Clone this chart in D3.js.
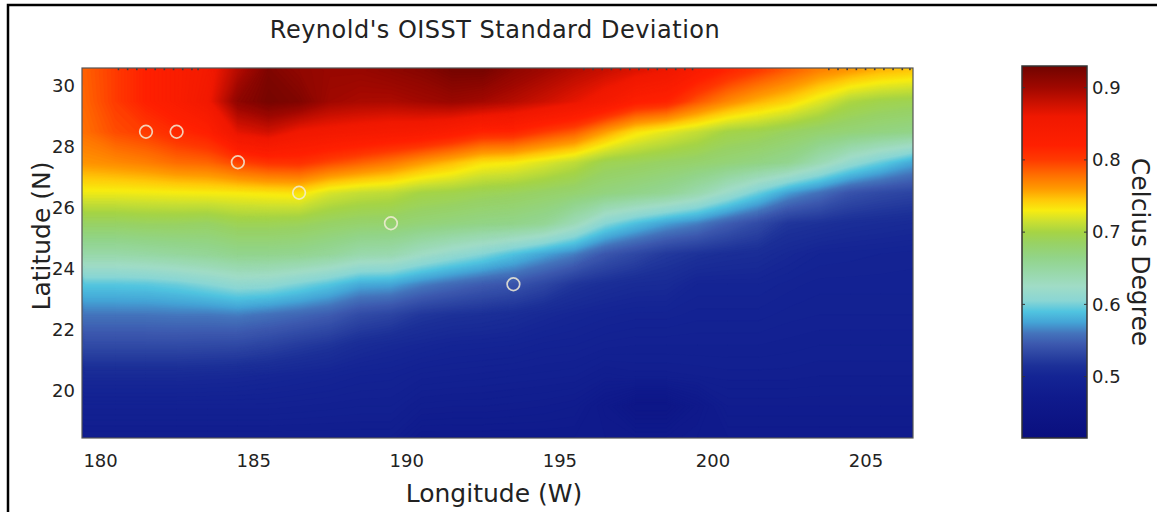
<!DOCTYPE html>
<html>
<head>
<meta charset="utf-8">
<script src="https://cdn.jsdelivr.net/npm/d3@7"></script>
<style>
  body { margin: 0; background: #fff; }
  svg { display: block; }
  text { font-family: "DejaVu Sans", sans-serif; }
</style>
</head>
<body>
<svg id="chart" width="1157" height="512"></svg>
<script>
// Grid cell centres (degrees)
const lons = [179.5, 180.5, 181.5, 182.5, 183.5, 184.5, 185.5, 186.5, 187.5, 188.5,
              189.5, 190.5, 191.5, 192.5, 193.5, 194.5, 195.5, 196.5, 197.5, 198.5,
              199.5, 200.5, 201.5, 202.5, 203.5, 204.5, 205.5, 206.5];
const lats = [30.5, 29.5, 28.5, 27.5, 26.5, 25.5, 24.5, 23.5, 22.5, 21.5, 20.5, 19.5, 18.5];

// SST standard deviation (°C), one row per latitude, north to south
const row305 = [.785,.800,.820,.835,.850,.890,.921,.910,.905,.905,.910,.915,.925,.925,.910,.900,.889,.879,.869,.859,.835,.815,.800,.785,.770,.760,.750,.745];
const row295 = [.783,.800,.820,.835,.855,.910,.926,.920,.900,.895,.894,.899,.904,.898,.889,.878,.865,.848,.824,.817,.789,.768,.752,.740,.722,.703,.696,.693];
const row285 = [.779,.793,.800,.812,.822,.866,.876,.858,.853,.848,.843,.840,.830,.816,.815,.800,.787,.759,.735,.723,.712,.698,.694,.686,.679,.674,.669,.665];
const row275 = [.763,.767,.772,.780,.783,.796,.805,.807,.795,.785,.775,.761,.749,.735,.731,.721,.710,.693,.689,.684,.680,.674,.668,.660,.638,.614,.596,.578];
const row265 = [.727,.727,.728,.729,.730,.731,.733,.735,.719,.712,.709,.699,.696,.691,.688,.683,.678,.670,.664,.657,.642,.620,.597,.573,.558,.541,.534,.530];
const row255 = [.685,.685,.687,.687,.685,.692,.692,.690,.684,.680,.679,.674,.670,.666,.664,.657,.635,.605,.588,.574,.564,.548,.535,.519,.516,.512,.510,.508];
const row245 = [.645,.645,.648,.652,.656,.662,.662,.660,.654,.643,.641,.627,.615,.604,.590,.576,.564,.544,.533,.522,.517,.513,.511,.505,.500,.499,.498,.497];
const row235 = [.592,.592,.593,.597,.604,.612,.610,.601,.591,.578,.576,.564,.555,.547,.542,.532,.519,.513,.509,.508,.500,.500,.500,.497,.495,.495,.495,.495];
const row225 = [.560,.560,.560,.561,.561,.563,.558,.553,.547,.535,.530,.520,.516,.514,.511,.506,.502,.499,.497,.497,.495,.495,.495,.493,.492,.492,.492,.492];
const row215 = [.535,.535,.535,.535,.534,.533,.529,.523,.518,.510,.506,.503,.500,.499,.498,.495,.494,.491,.490,.490,.490,.490,.490,.489,.488,.488,.488,.488];
const row205 = [.507,.507,.507,.507,.506,.505,.503,.501,.499,.496,.495,.491,.490,.489,.488,.487,.486,.481,.483,.483,.484,.485,.485,.485,.484,.484,.484,.484];
const row195 = [.491,.491,.491,.491,.491,.491,.491,.490,.489,.488,.488,.481,.480,.480,.479,.478,.476,.465,.452,.452,.465,.478,.478,.478,.478,.478,.478,.478];
const row185 = [.480,.480,.480,.480,.480,.480,.480,.480,.480,.480,.480,.470,.470,.470,.470,.470,.470,.468,.466,.466,.470,.472,.472,.472,.472,.472,.472,.472];
const sstStd = [row305, row295, row285, row275, row265, row255, row245, row235, row225, row215, row205, row195, row185];

// Station locations (circles)
const stationLons = [181.5, 182.5, 184.5, 186.5, 189.5, 193.5];
const stationLats = [28.5, 28.5, 27.5, 26.5, 25.5, 23.5];

// Small marks along the top edge
const topMarkLons = [180.6, 180.9, 181.2, 181.5, 181.8, 182.1, 182.4, 182.7, 183.0, 183.2,
                     195.8, 196.1, 196.4, 196.7, 197.0, 197.3, 197.6, 197.9, 198.2, 198.5, 198.8, 199.1, 199.35,
                     203.8, 204.1, 204.4, 204.7, 205.0, 205.3, 205.6, 205.9, 206.2, 206.45];

// Axis ticks
const xTicks = [180, 185, 190, 195, 200, 205];
const yTicks = [20, 22, 24, 26, 28, 30];
const cbTicks = [0.5, 0.6, 0.7, 0.8, 0.9];

// Colour map stops
const cmapValues = [0.415, 0.47, 0.50, 0.515, 0.53, 0.545, 0.56, 0.575, 0.59, 0.605, 0.625, 0.645, 0.665, 0.685, 0.70, 0.715, 0.73, 0.745, 0.76, 0.78, 0.80, 0.82, 0.86, 0.88, 0.90, 0.93];
const cmapColors = ["#0a0f7e", "#0f1a8c", "#142494", "#1c3098", "#2c44a2", "#3c58ae", "#4474bc", "#44a4d6", "#50c4e0", "#8ad6d4",
                    "#a0dcc6", "#98d8a8", "#92d488", "#98d264", "#a6d444", "#cce030", "#f8ec10", "#ffc808", "#ff9a00", "#ff6c00",
                    "#ff3a00", "#ff2000", "#f01800", "#c81000", "#a00800", "#700400"];

const svg = d3.select("#chart");
const W = 1157, H = 512;

// Outer frame
svg.append("path")
  .attr("d", `M8,${H + 2} V5 H${W + 2}`)
  .attr("fill", "none").attr("stroke", "#000").attr("stroke-width", 2.5);

const plot = { left: 82, right: 913, top: 68, bottom: 438 };
const x = d3.scaleLinear().domain([179.41, 206.55]).range([plot.left, plot.right]);
const y = d3.scaleLinear().domain([18.46, 30.59]).range([plot.bottom, plot.top]);

const color = d3.scaleLinear().domain(cmapValues).range(cmapColors)
  .interpolate(d3.interpolateRgb).clamp(true);

// Filled contours of the gridded field
const nx = lons.length, ny = lats.length;
const dLon = lons[1] - lons[0], dLat = lats[0] - lats[1];
const step = 0.002;
const thresholds = d3.range(0.40, 0.94, step);
const contours = d3.contours().size([nx, ny]).thresholds(thresholds)(sstStd.flat());

const gridToScreen = d3.geoTransform({
  point(gx, gy) {
    const lon = lons[0] - dLon / 2 + gx * dLon;
    const lat = lats[0] + dLat / 2 - gy * dLat;
    this.stream.point(x(lon), y(lat));
  }
});
const path = d3.geoPath(gridToScreen);

const defs = svg.append("defs");
defs.append("clipPath").attr("id", "plotClip")
  .append("rect")
  .attr("x", plot.left).attr("y", plot.top)
  .attr("width", plot.right - plot.left).attr("height", plot.bottom - plot.top);

const field = svg.append("g").attr("clip-path", "url(#plotClip)");
field.selectAll("path")
  .data(contours)
  .join("path")
  .attr("d", path)
  .attr("fill", d => color(d.value + step / 2))
  .attr("stroke", d => color(d.value + step / 2))
  .attr("stroke-width", 0.4);

// Top edge marks
svg.append("g").selectAll("rect")
  .data(topMarkLons)
  .join("rect")
  .attr("x", d => x(d) - 0.8).attr("y", plot.top)
  .attr("width", 1.6).attr("height", 2.2)
  .attr("fill", "#4a3a3a");

// Station circles
svg.append("g").selectAll("circle")
  .data(stationLons.map((lon, i) => [lon, stationLats[i]]))
  .join("circle")
  .attr("cx", d => x(d[0])).attr("cy", d => y(d[1]))
  .attr("r", 6.3)
  .attr("fill", "none")
  .attr("stroke", "#f2ecd6").attr("stroke-opacity", 0.85)
  .attr("stroke-width", 1.7);

// Plot frame
svg.append("rect")
  .attr("x", plot.left).attr("y", plot.top)
  .attr("width", plot.right - plot.left).attr("height", plot.bottom - plot.top)
  .attr("fill", "none").attr("stroke", "#555").attr("stroke-width", 1.2);

// Axes
const tickFont = g => g.selectAll("text")
  .attr("font-size", 18).attr("fill", "#222");

const xAxis = svg.append("g")
  .attr("transform", `translate(0,${plot.bottom})`)
  .call(d3.axisBottom(x).tickValues(xTicks).tickSize(0).tickPadding(16).tickFormat(d3.format("d")));
xAxis.select(".domain").remove();
xAxis.call(tickFont);

const yAxis = svg.append("g")
  .attr("transform", `translate(${plot.left},0)`)
  .call(d3.axisLeft(y).tickValues(yTicks).tickSize(0).tickPadding(7).tickFormat(d3.format("d")));
yAxis.select(".domain").remove();
yAxis.call(tickFont);

// Titles
svg.append("text")
  .attr("x", 495).attr("y", 38)
  .attr("text-anchor", "middle")
  .attr("font-size", 24).attr("letter-spacing", 0.5).attr("fill", "#222")
  .text("Reynold's OISST Standard Deviation");

svg.append("text")
  .attr("x", 494).attr("y", 502)
  .attr("text-anchor", "middle")
  .attr("font-size", 25).attr("fill", "#222")
  .text("Longitude (W)");

svg.append("text")
  .attr("transform", "translate(50,236) rotate(-90)")
  .attr("text-anchor", "middle")
  .attr("font-size", 25).attr("fill", "#222")
  .text("Latitude (N)");

// Colour bar
const cb = { left: 1022, right: 1087, top: 66, bottom: 438 };
const cbDomain = [0.415, 0.93];
const cbScale = d3.scaleLinear().domain(cbDomain).range([cb.bottom, cb.top]);

const grad = defs.append("linearGradient").attr("id", "cbGrad")
  .attr("x1", 0).attr("y1", 1).attr("x2", 0).attr("y2", 0);
grad.selectAll("stop")
  .data(cmapValues.filter(v => v >= cbDomain[0] && v <= cbDomain[1]))
  .join("stop")
  .attr("offset", v => (v - cbDomain[0]) / (cbDomain[1] - cbDomain[0]))
  .attr("stop-color", v => color(v));

svg.append("rect")
  .attr("x", cb.left).attr("y", cb.top)
  .attr("width", cb.right - cb.left).attr("height", cb.bottom - cb.top)
  .attr("fill", "url(#cbGrad)")
  .attr("stroke", "#333").attr("stroke-width", 1.5);

svg.append("g").selectAll("path")
  .data(cbTicks)
  .join("path")
  .attr("d", d => `M${cb.left},${cbScale(d)}h3M${cb.right},${cbScale(d)}h-3`)
  .attr("stroke", "#333").attr("stroke-width", 1);

const cbAxis = svg.append("g")
  .attr("transform", `translate(${cb.right},0)`)
  .call(d3.axisRight(cbScale).tickValues(cbTicks).tickSize(0).tickPadding(5).tickFormat(d3.format(".1f")));
cbAxis.select(".domain").remove();
cbAxis.call(tickFont);

svg.append("text")
  .attr("transform", "translate(1132,252) rotate(90)")
  .attr("text-anchor", "middle")
  .attr("font-size", 25).attr("fill", "#222")
  .text("Celcius Degree");
</script>
</body>
</html>
